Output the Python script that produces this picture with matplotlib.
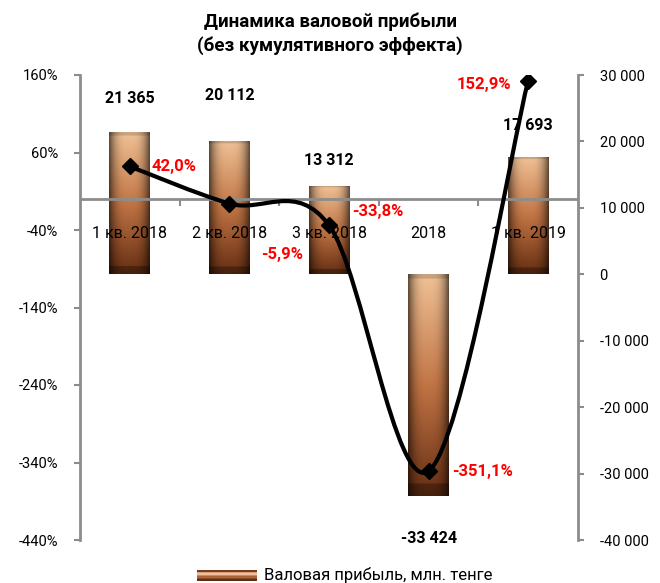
# Валовая прибыль: столбцы (млн. тенге) + линия динамики (%)
import numpy as np
import matplotlib
matplotlib.use("Agg")
import matplotlib.pyplot as plt
from matplotlib.patches import Rectangle
from matplotlib.legend_handler import HandlerBase
from matplotlib.path import Path
from matplotlib.patches import PathPatch
from matplotlib.ticker import FuncFormatter

plt.rcParams['font.family'] = ['Roboto', 'DejaVu Sans']

categories = ["1 кв. 2018", "2 кв. 2018", "3 кв. 2018", "2018", "1 кв. 2019"]
profit = [21365, 20112, 13312, -33424, 17693]          # млн. тенге
growth = [42.0, -5.9, -33.8, -351.1, 152.9]             # %
growth_labels = ["42,0%", "-5,9%", "-33,8%", "-351,1%", "152,9%"]
profit_labels = ["21 365", "20 112", "13 312", "-33 424", "17 693"]

# label offsets in points (style, not data)
bar_lbl_off = [19, 27, 13, 25, 17]
line_lbl_off = [(16, 0, 'left'), (23, -37, 'left'), (17, 10, 'left'),
                (17, 0, 'left'), (-12, -3, 'right')]

GRAY = "#8c8c8c"
RED = "#ff0000"

fig = plt.figure(figsize=(6.6, 5.83), dpi=100)
L, R, T, B = 80 / 660, 578 / 660, 75 / 583, 540 / 583
ax = fig.add_axes([L, 1 - B, R - L, B - T])
ax2 = ax.twinx()

x = np.arange(len(categories))

# --- bars with shading ---
def shade_img(h=160, w=60):
    t = np.linspace(0, 1, h)[:, None]
    u = np.linspace(-1, 1, w)[None, :]
    light = np.array([0.94, 0.76, 0.59])
    mid = np.array([0.76, 0.46, 0.27])
    dark = np.array([0.40, 0.18, 0.07])
    tt = t[..., None]
    col = np.where(tt < 0.5,
                   light + (mid - light) * (tt / 0.5),
                   mid + (dark - mid) * ((tt - 0.5) / 0.5))
    edge = 1 - 0.6 * np.abs(u) ** 3
    col = col * edge[..., None]
    col[-int(h * 0.06):] *= 0.7
    col[:int(h * 0.03)] *= 0.85
    return np.clip(col, 0, 1)

img = shade_img()
bars = ax.bar(x, profit, width=0.41, color="none", edgecolor="none", zorder=2)
for b in bars:
    x0, y0 = b.get_x(), b.get_y()
    w, h = b.get_width(), b.get_height()
    lo, hi = min(y0, y0 + h), max(y0, y0 + h)
    im = ax.imshow(img, extent=(x0, x0 + w, lo, hi), aspect='auto', zorder=2,
                   interpolation='bilinear')
    im.set_clip_path(b)

ax.set_xlim(-0.5, len(categories) - 0.5)
ax.set_ylim(-40000, 30000)
ax.set_yticks(np.arange(-40000, 30001, 10000))
ax.yaxis.set_major_formatter(FuncFormatter(lambda v, p: f"{int(v):,}".replace(",", " ")))
ax.yaxis.tick_right()

for xi, v, lbl, off in zip(x, profit, profit_labels, bar_lbl_off):
    ax.annotate(lbl, (xi, v), xytext=(0, off if v >= 0 else -off), textcoords='offset points',
                ha='center', va='bottom' if v >= 0 else 'top', fontsize=11.5,
                fontweight='bold', color='black', zorder=5)

# --- smooth line (Catmull-Rom as Bezier) ---
pts = np.column_stack([x, growth]).astype(float)
ext = np.vstack([pts[0], pts, pts[-1]])
verts = [tuple(pts[0])]
codes = [Path.MOVETO]
for i in range(len(pts) - 1):
    p0, p1, p2, p3 = ext[i], ext[i + 1], ext[i + 2], ext[i + 3]
    c1 = p1 + (p2 - p0) / 6
    c2 = p2 - (p3 - p1) / 6
    verts += [tuple(c1), tuple(c2), tuple(p2)]
    codes += [Path.CURVE4] * 3
ax2.add_patch(PathPatch(Path(verts, codes), facecolor='none', edgecolor='black',
                        lw=3, zorder=4))
ax2.plot(x, growth, ls='', marker='D', ms=8, color='black', zorder=5)

for xi, v, lbl, (dx, dy, ha) in zip(x, growth, growth_labels, line_lbl_off):
    ax2.annotate(lbl, (xi, v), xytext=(dx, dy), textcoords='offset points',
                 ha=ha, va='center', fontsize=12, fontweight='bold', color=RED, zorder=6)

ax2.set_ylim(-440, 160)
ax2.set_yticks(np.arange(-440, 161, 100))
ax2.yaxis.set_major_formatter(FuncFormatter(lambda v, p: f"{int(v)}%"))
ax2.yaxis.tick_left()
ax2.axhline(0, color=GRAY, lw=2, zorder=3)
ax2.plot(np.arange(0.5, len(categories) - 0.5), np.zeros(len(categories) - 1),
         ls='', marker=3, ms=5, mew=1.5, color=GRAY, zorder=3)

# category labels just under the 0% line
for xi, c in zip(x, categories):
    ax2.annotate(c, (xi, 0), xytext=(0, -25), textcoords='offset points',
                 ha='center', va='center', fontsize=11.5, color='black', zorder=6)

for a in (ax, ax2):
    for s in ('top', 'bottom'):
        a.spines[s].set_visible(False)
    a.set_xticks([])
    a.tick_params(axis='y', colors='black', labelsize=10.5, length=4.5, width=1.5,
                  color=GRAY, pad=11)
ax.spines['left'].set_visible(False)
ax.spines['right'].set_color(GRAY)
ax.spines['right'].set_linewidth(2)
ax2.spines['right'].set_visible(False)
ax2.spines['left'].set_color(GRAY)
ax2.spines['left'].set_linewidth(2)

fig.text(0.5, 1 - 22 / 583, "Динамика валовой прибыли", ha='center', va='center',
         fontsize=13.5, fontweight='bold')
fig.text(0.5, 1 - 46 / 583, "(без кумулятивного эффекта)", ha='center', va='center',
         fontsize=13.5, fontweight='bold')

# legend with striped swatch
class HandlerShade(HandlerBase):
    def create_artists(self, legend, orig, xd, yd, width, height, fontsize, trans):
        cols = ["#7a3d1c", "#d9a07a", "#eebf99", "#c98a5d", "#a8653b", "#8a4a25", "#5e2e14"]
        n = len(cols)
        return [Rectangle((xd, yd + height * (n - 1 - i) / n), width, height / n,
                          facecolor=c, edgecolor='none', transform=trans)
                for i, c in enumerate(cols)]

handle = Rectangle((0, 0), 1, 1)
fig.legend([handle], ["Валовая прибыль, млн. тенге"], handler_map={Rectangle: HandlerShade()},
           loc='center', bbox_to_anchor=(345 / 660, 1 - 575 / 583), frameon=False,
           fontsize=12, handlelength=3.6, handleheight=0.6, handletextpad=0.4)

fig.savefig("out.png", dpi=100)
